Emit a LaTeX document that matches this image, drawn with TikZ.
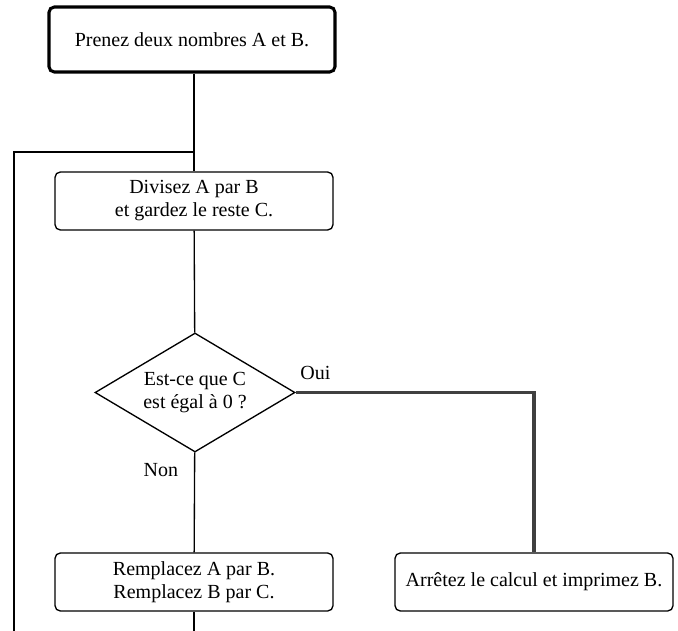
\documentclass[tikz,border=0pt]{standalone}
\usepackage{fontspec}
\setmainfont{Liberation Serif}
\usepackage{tikz}
\usetikzlibrary{shapes.geometric}

\begin{document}
\begin{tikzpicture}[x=0.75pt, y=-0.75pt,
    font=\fontsize{15}{17.25}\selectfont,
    box/.style={draw, rounded corners=4pt, line width=1pt, align=center,
                minimum width=208.5pt, minimum height=43.5pt},
    startbox/.style={box, line width=2.3pt, minimum width=214.5pt, minimum height=48.75pt},
    test/.style={draw, diamond, aspect=1.68, line width=1pt, align=center, inner sep=0pt,
                 minimum width=150pt, minimum height=89.25pt},
    flow/.style={line width=1pt},
    yes/.style={line width=2.3pt, draw=black!75}]
            \clip (0,0) rectangle (678,631);
            \node[startbox] (0) at (192,39.5) {Prenez deux nombres A et B.};
            \node[box] (1) at (194,201) {Divisez A par B\\et gardez le reste C.};
            \node[test] (2) at (195,392.5) {Est-ce que C\\est égal à 0 ?};
            \node[box] (3) at (194,582) {Remplacez A par B.\\Remplacez B par C.};
            \node[box] (4) at (534,582) {Arrêtez le calcul et imprimez B.};

            \coordinate (join) at (194,152);
            \coordinate (back) at (14,650);

            \draw[flow] (0.south -| 1.north) -- (1.north);
            \draw[flow] (1) -- (2);
            \draw[flow] (2) -- node[pos=0.18, left=8.5pt] {Non} (3);
            \draw[yes] (2.east) -| node[pos=0, anchor=south west, xshift=-1pt, yshift=5pt] {Oui} (4.north);

            \draw[flow] (3.south) |- (back) |- (join);
        \end{tikzpicture}
\end{document}
